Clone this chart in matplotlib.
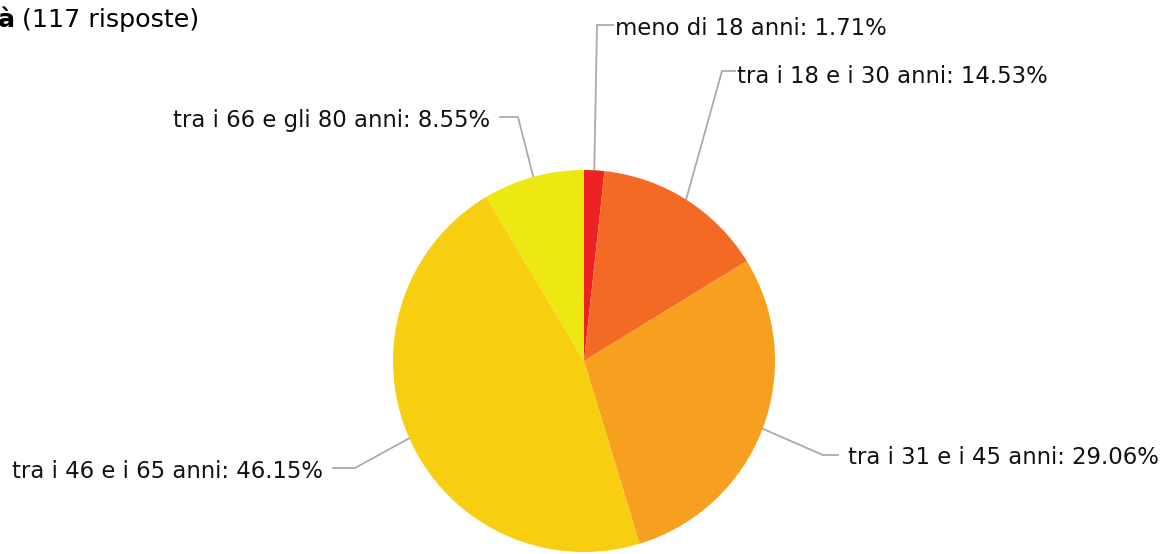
import matplotlib.pyplot as plt
import numpy as np

# data
labels = ["meno di 18 anni", "tra i 18 e i 30 anni", "tra i 31 e i 45 anni",
          "tra i 46 e i 65 anni", "tra i 66 e gli 80 anni"]
values = [1.71, 14.53, 29.06, 46.15, 8.55]
colors = ["#ED2224", "#F26A24", "#F7A01F", "#F8CF10", "#EDE812"]

W, H = 1166, 554
CX, CY, R = 584, 361, 191

fig = plt.figure(figsize=(W / 100, H / 100), dpi=100)
ax = fig.add_axes([0, 0, 1, 1])

ax.pie(values, colors=colors, center=(CX, CY), radius=R, startangle=-90,
       counterclock=True, wedgeprops=dict(linewidth=0, zorder=3))
ax.set_xlim(0, W)
ax.set_ylim(H, 0)
ax.axis("off")

# label layout: elbow point, end of line, text anchor, alignment
layout = [
    ((597, 25), (613, 25), (615, 35), "left"),
    ((722, 71), (735, 71), (737, 83), "left"),
    ((823, 455), (838, 455), (848, 464), "left"),
    ((355, 468), (333, 468), (323, 478), "right"),
    ((518, 117), (500, 117), (490, 127), "right"),
]

cum = np.cumsum([0] + values[:-1])
total = sum(values)
for lab, v, c0, (elb, end, txt, ha) in zip(labels, values, cum, layout):
    ang = np.deg2rad(-90 + 360 * (c0 + v / 2) / total)
    ax_, ay_ = CX + R * np.cos(ang), CY + R * np.sin(ang)
    ax.plot([ax_, elb[0], end[0]], [ay_, elb[1], end[1]], color="#aaaaaa",
            lw=1.3, zorder=1, solid_joinstyle="miter")
    ax.text(txt[0], txt[1], f"{lab}: {v:.2f}%", ha=ha, va="baseline",
            fontsize=16.4, color="#111111")

# title, cut off at the left edge
ax.text(15, 27, "à", ha="right", va="baseline", fontsize=18.3,
        fontweight="bold", color="black")
ax.text(22, 27, "(117 risposte)", ha="left", va="baseline", fontsize=18.3,
        color="black")

plt.savefig("out.png", dpi=100)
